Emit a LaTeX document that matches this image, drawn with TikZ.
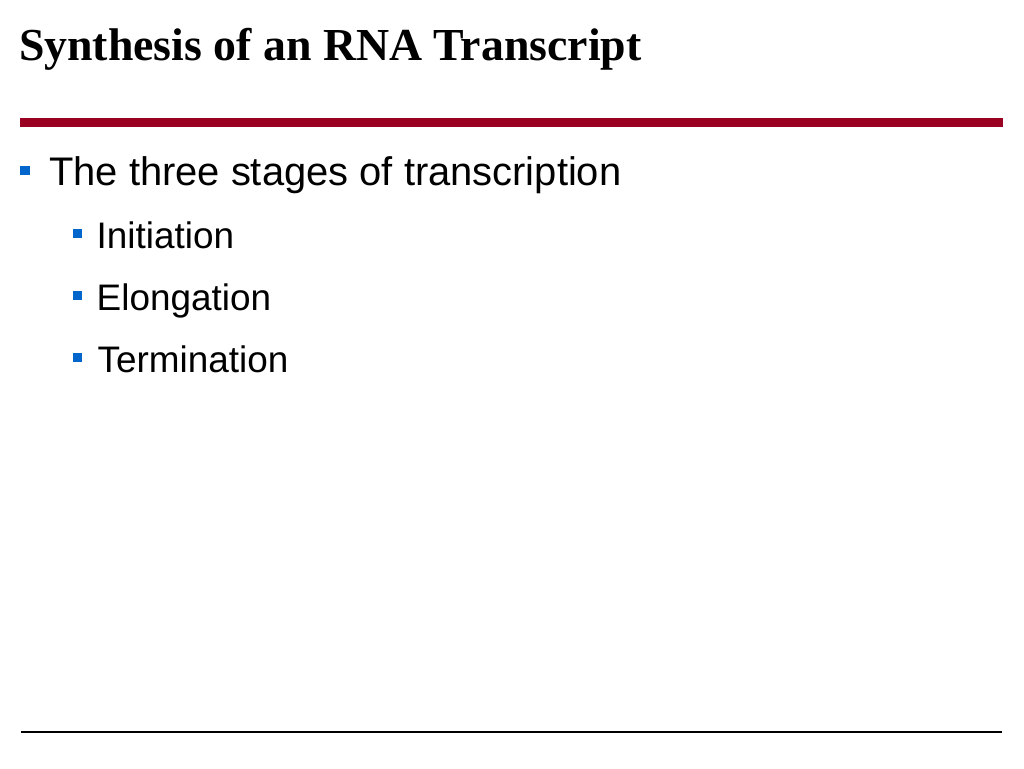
\documentclass[tikz,border=0pt]{standalone}
\usepackage{fontspec}
\setmainfont{Liberation Serif}
\setsansfont{Liberation Sans}
\usepackage{tikz}
\usetikzlibrary{positioning}

\definecolor{rulered}{RGB}{153,0,33}
\definecolor{bulletblue}{RGB}{0,102,204}

\tikzset{
  slidetitle/.style={anchor=base west, inner sep=0pt, font=\fontsize{45.8}{50}\selectfont\bfseries},
  itemone/.style={anchor=base west, inner sep=0pt, font=\sffamily\fontsize{39.9}{44}\selectfont},
  itemtwo/.style={anchor=base west, inner sep=0pt, font=\sffamily\fontsize{36.9}{40}\selectfont},
  sq/.style={fill=bulletblue, minimum size=9.5pt, inner sep=0pt},
}

\begin{document}
\begin{tikzpicture}[x=1pt,y=-1pt]

  \useasboundingbox (0,0) rectangle (1024,768);

  \node[slidetitle] (title) at (18.8,60) {Synthesis of an RNA Transcript};
  \draw[rulered, line width=8.5pt] (20,122.5) -- (1003,122.5);

  \node[sq] (b0) at (25,170.5) {};
  \node[itemone] (stages) at (49,185) {The three stages of transcription};

  \node[sq] (b1) at (77.5,233.5) {};
  \node[itemtwo] (init) at (96.5,248) {Initiation};
  \node[sq] (b2) at (77.5,295.5) {};
  \node[itemtwo] (elong) at (96.5,310) {Elongation};
  \node[sq] (b3) at (77.5,357.5) {};
  \node[itemtwo] (term) at (97.5,372) {Termination};

  \draw[black, line width=2.5pt] (21,732) -- (1002,732);

\end{tikzpicture}
\end{document}
